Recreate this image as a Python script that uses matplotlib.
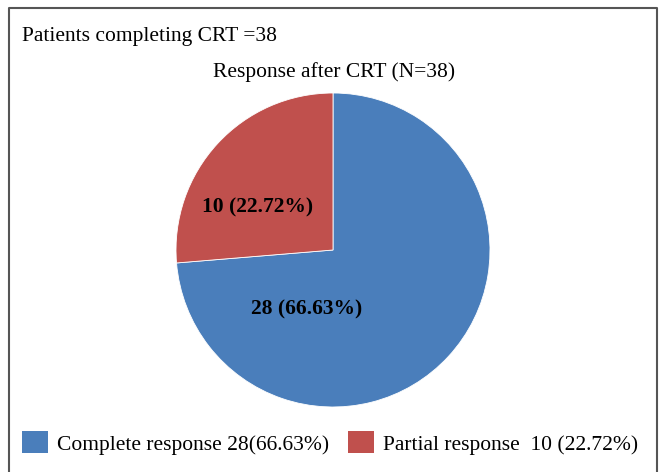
import matplotlib
matplotlib.use("Agg")
import matplotlib.pyplot as plt
from matplotlib.lines import Line2D
from matplotlib.patches import Patch

plt.rcParams["font.family"] = ["Liberation Serif", "DejaVu Serif"]

categories = ["Complete response", "Partial response"]
counts = [28, 10]
percents = ["66.63%", "22.72%"]
legend_labels = ["Complete response 28(66.63%)", "Partial response  10 (22.72%)"]
slice_labels = ["28 (66.63%)", "10 (22.72%)"]
colors = ["#4A7EBB", "#C0504D"]

fig = plt.figure(figsize=(6.59, 4.72), dpi=100)

# outer frame (open at the bottom like the source image)
fig.add_artist(Line2D([9/659, 9/659, 657/659, 657/659], [0, 1-8/472, 1-8/472, 0],
                      transform=fig.transFigure, color="#555555", lw=1.5))

ax = fig.add_axes([176/659, 65/472, 314/659, 314/472])
ax.pie(counts, colors=colors, startangle=90, counterclock=False,
       wedgeprops=dict(edgecolor="white", linewidth=0.6))
ax.set_xlim(-1, 1)
ax.set_ylim(-1, 1)
ax.set_aspect("equal")

# label spots inside the slices (as placed in the original)
label_pos = [(-0.17, -0.38), (-0.48, 0.27)]
for (x, y), txt in zip(label_pos, slice_labels):
    ax.text(x, y, txt, ha="center", va="center", fontsize=15.5, fontweight="bold")

fig.text(22/659, 1-37/472, "Patients completing CRT =38", fontsize=15.5, va="center", ha="left")
fig.text(334/659, 1-72/472, "Response after CRT (N=38)", fontsize=15.5, va="center", ha="center")

handles = [Patch(facecolor=c, edgecolor="none") for c in colors]
fig.legend(handles, legend_labels, loc="center left", bbox_to_anchor=(22/659, 1-443/472),
           ncol=2, frameon=False, fontsize=15.5, handlelength=1.2, handleheight=1.2,
           handletextpad=0.42, columnspacing=0.9, borderaxespad=0, borderpad=0)

fig.savefig("out.png", dpi=100)
